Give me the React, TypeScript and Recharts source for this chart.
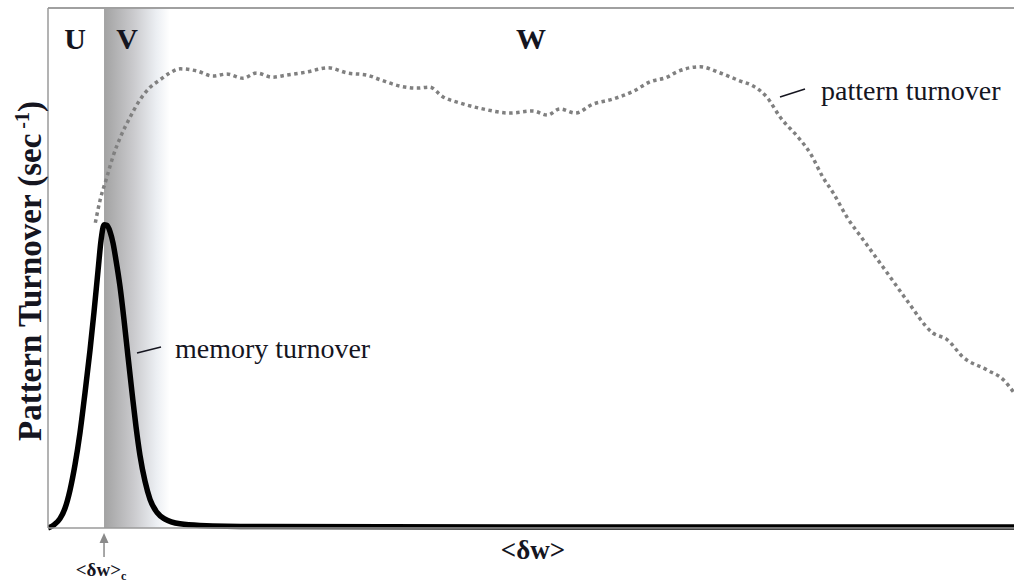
import {
  ComposedChart,
  Line,
  Area,
  XAxis,
  YAxis,
  ReferenceLine,
  Label,
} from 'recharts';

// <δw> in arbitrary units (0..100), turnover in arbitrary units (0..100)
const memoryX = [0, 0.62, 1.24, 1.76, 2.28, 2.8, 3.31, 3.83, 4.35, 4.76, 5.18, 5.49, 5.8, 6.11, 6.42, 6.73, 7.04, 7.45, 7.87, 8.28, 8.7, 9.11, 9.52, 10.04, 10.56, 11.28, 12.11, 13.66, 15.73, 21.95, 50, 100];
const memoryY = [0, 0.6, 1.8, 3.8, 7.3, 12.2, 18.3, 26, 34.2, 41.5, 49.5, 55.3, 58.3, 58.2, 57, 54.8, 51.5, 46.5, 40, 33, 26, 19.5, 14, 9, 5.5, 3, 1.7, 0.8, 0.5, 0.3, 0.2, 0.2];

const patternX = [4.9, 5.4, 6.1, 6.7, 7.5, 8.5, 9.5, 10.6, 11.6, 12.6, 13.7, 15.4, 17.1, 18.5, 20.2, 21.6, 23.2, 24.7, 26.8, 29.0, 31.0, 33.0, 34.4, 36.4, 38.2, 39.5, 40.9, 42.7, 45.0, 47.8, 50.2, 51.7, 53.0, 54.6, 56.4, 58.5, 60.6, 62.3, 64.1, 65.1, 67.5, 69.6, 71.6, 73.0, 74.4, 75.8, 77.9, 78.9, 80.2, 81.3, 82.7, 84.4, 86.9, 88.9, 91.6, 93.1, 94.7, 97.2, 98.9, 100];
const patternY = [58.7, 63.1, 67.5, 71.3, 75.2, 79.0, 82.3, 84.8, 86.2, 87.5, 88.3, 87.9, 86.9, 87.3, 86.5, 87.5, 86.7, 87.1, 87.7, 88.5, 87.5, 87.1, 86.2, 85.0, 84.6, 84.8, 82.9, 81.7, 80.6, 79.8, 80.2, 79.4, 80.6, 79.8, 81.5, 82.5, 84.0, 85.8, 86.7, 87.7, 88.7, 87.5, 86.0, 85.0, 82.9, 79.0, 74.6, 72.1, 67.5, 64.4, 59.8, 55.4, 49.0, 43.8, 37.5, 36.2, 32.9, 30.4, 28.5, 26.0];

// shaded region V: starts at the critical <δw>c and fades out
const criticalDw = 5.8;
const bandEnd = 12.6;
const yMax = 100;

const memoryData = memoryX.map((x, i) => ({ x, v: memoryY[i] }));
const patternData = patternX.map((x, i) => ({ x, v: patternY[i] }));
const bandData = [
  { x: criticalDw, v: yMax },
  { x: bandEnd, v: yMax },
];

const serif = '"Liberation Serif", "DejaVu Serif", serif';
const ink = '#15151f';

function CriticalTick({ x, y }: any) {
  return (
    <g>
      <line x1={x} y1={y + 29} x2={x} y2={y + 14} stroke="#8a8a8a" strokeWidth={1.5} />
      <polygon points={`${x},${y + 5} ${x - 4.5},${y + 15} ${x + 4.5},${y + 15}`} fill="#8a8a8a" />
      <text x={x - 3} y={y + 48} textAnchor="middle" fontFamily={serif} fontSize={19} fontWeight="bold" fill={ink}>
        {'<δw>'}
        <tspan fontSize={12} dy={4}>c</tspan>
      </text>
    </g>
  );
}

function Annotations() {
  const letter = { fontFamily: serif, fontSize: 30, fontWeight: 'bold' as const, fill: ink, textAnchor: 'middle' as const };
  const note = { fontFamily: serif, fontSize: 28, fill: ink };
  return (
    <svg width={1014} height={583} style={{ position: 'absolute', left: 0, top: 0, pointerEvents: 'none' }}>
      <text x={75} y={49} {...letter}>U</text>
      <text x={127} y={49} {...letter}>V</text>
      <text x={531} y={49} {...letter}>W</text>
      <line x1={137} y1={353} x2={161} y2={347} stroke={ink} strokeWidth={1.5} />
      <text x={175} y={358} {...note}>memory turnover</text>
      <line x1={780} y1={97} x2={805} y2={89} stroke={ink} strokeWidth={1.5} />
      <text x={821} y={100} {...note}>pattern turnover</text>
    </svg>
  );
}

function YTitle({ viewBox }: any) {
  const cx = 41;
  const cy = viewBox.y + viewBox.height / 2 + 3;
  return (
    <text
      x={cx}
      y={cy}
      transform={`rotate(-90, ${cx}, ${cy})`}
      textAnchor="middle"
      fontFamily={serif}
      fontSize={33}
      fontWeight="bold"
      fill={ink}
    >
      Pattern Turnover (sec
      <tspan fontSize={20} dy={-12}> -1</tspan>
      <tspan dy={12}>)</tspan>
    </text>
  );
}

function XTitle({ viewBox }: any) {
  return (
    <text
      x={viewBox.x + viewBox.width / 2 + 2}
      y={viewBox.y + 31}
      textAnchor="middle"
      fontFamily={serif}
      fontSize={27}
      fontWeight="bold"
      fill={ink}
    >
      {'<δw>'}
    </text>
  );
}

export default function App() {
  return (
    <div style={{ position: 'relative', width: 1014, height: 583, background: '#fff' }}>
      <style>{'body{margin:0;overflow:hidden}'}</style>
      <svg width={0} height={0} style={{ position: 'absolute' }}>
        <defs>
          <linearGradient id="vband" x1="0" x2="1" y1="0" y2="0">
            <stop offset="0" stopColor="#a2a2a2" />
            <stop offset="0.45" stopColor="#cacacd" />
            <stop offset="0.8" stopColor="#eceff3" />
            <stop offset="1" stopColor="#ffffff" />
          </linearGradient>
        </defs>
      </svg>
      <ComposedChart width={1014} height={583} margin={{ top: 8, right: 0, bottom: 0, left: 0 }}>
        <XAxis
          type="number"
          dataKey="x"
          domain={[0, 100]}
          ticks={[criticalDw]}
          tick={<CriticalTick />}
          tickLine={false}
          tickSize={0}
          tickMargin={0}
          height={55}
          axisLine={{ stroke: '#9a9a9a', strokeWidth: 1.5 }}
          allowDataOverflow
        >
          <Label content={<XTitle />} />
        </XAxis>
        <YAxis
          type="number"
          domain={[0, yMax]}
          width={48}
          tick={false}
          tickLine={false}
          axisLine={{ stroke: '#9a9a9a', strokeWidth: 1.5 }}
        >
          <Label content={<YTitle />} />
        </YAxis>
        <Area
          data={bandData}
          dataKey="v"
          type="linear"
          stroke="none"
          fill="url(#vband)"
          fillOpacity={1}
          dot={false}
          activeDot={false}
          isAnimationActive={false}
        />
        <ReferenceLine y={yMax} stroke="#a0a0a0" strokeWidth={2} />
        <Line
          data={patternData}
          dataKey="v"
          type="monotone"
          stroke="#808080"
          strokeWidth={3.5}
          strokeDasharray="3.5 3.5"
          dot={false}
          isAnimationActive={false}
        />
        <Line
          data={memoryData}
          dataKey="v"
          type="monotone"
          stroke="#000"
          strokeWidth={5.5}
          strokeLinejoin="round"
          dot={false}
          isAnimationActive={false}
        />
      </ComposedChart>
      <Annotations />
    </div>
  );
}
